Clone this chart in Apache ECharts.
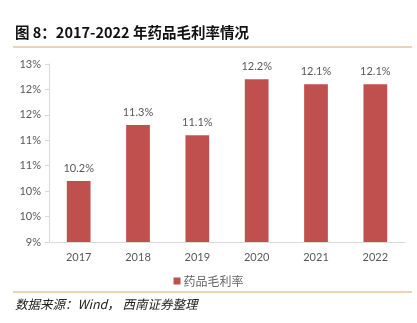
<!DOCTYPE html>
<html><head><meta charset="utf-8">
<script src="https://cdn.jsdelivr.net/npm/echarts@6/dist/echarts.min.js"></script>
<style>html,body{margin:0;padding:0;background:#fff}#c{width:417px;height:323px}</style>
</head><body><div id="c"></div>
<script>
const categories = ['2017','2018','2019','2020','2021','2022'];
const barValues = [10.2, 11.3, 11.1, 12.2, 12.1, 12.1];
const barLabels = ['10.2%','11.3%','11.1%','12.2%','12.1%','12.1%'];
const yTicks = [9, 9.5, 10, 10.5, 11, 11.5, 12, 12.5];
const yTickLabels = ['9%','10%','10%','11%','11%','12%','12%','13%'];
const seriesName = '药品毛利率';

const chart = echarts.init(document.getElementById('c'), null, {renderer:'canvas'});
const axisFont = 'Lato, "Noto Sans CJK SC", sans-serif';
chart.setOption({
  animation:false,
  backgroundColor:'#fff',
  grid:{left:49, right:12, top:64, bottom:81, containLabel:false},
  graphic:[
    {type:'text', left:15, top:25, style:{text:'图 8：2017-2022 年药品毛利率情况', font:'bold 14.5px "Noto Sans CJK SC", sans-serif', fill:'#111'}},
    {type:'line', shape:{x1:13,y1:47,x2:412,y2:47}, style:{stroke:'#d9a96a', lineWidth:1.2}},
    {type:'line', shape:{x1:13,y1:292,x2:412,y2:292}, style:{stroke:'#d9a96a', lineWidth:1.2}},
    {type:'text', left:15, top:298, style:{text:'数据来源：Wind， 西南证券整理', font:'italic 12.5px "Noto Sans CJK SC", sans-serif', fill:'#222'}}
  ],
  legend:{data:[seriesName], left:'center', top:270, icon:'rect', itemWidth:7, itemHeight:7, itemGap:4,
    textStyle:{color:'#666', fontSize:12, fontFamily:'"Noto Sans CJK SC", sans-serif', padding:[0,0,0,-2]}},
  xAxis:{type:'category', data:categories,
    axisLine:{lineStyle:{color:'#d9d9d9'}}, axisTick:{show:false},
    axisLabel:{color:'#595959', fontSize:11, fontFamily:axisFont, margin:10}},
  yAxis:{type:'value', min:yTicks[0], max:yTicks[yTicks.length-1], interval:0.5,
    axisLine:{show:true, lineStyle:{color:'#d9d9d9'}},
    axisTick:{show:true, length:4, lineStyle:{color:'#d9d9d9'}},
    splitLine:{show:false},
    axisLabel:{color:'#595959', fontSize:11, fontFamily:axisFont, margin:8,
      formatter:(v)=>{const i=yTicks.findIndex(t=>Math.abs(t-v)<1e-6); return i>=0?yTickLabels[i]:'';}}},
  series:[{name:seriesName, type:'bar', data:barValues, barWidth:'40%',
    itemStyle:{color:'#c0504d'},
    label:{show:true, position:'top', distance:7, color:'#595959', fontSize:11, fontFamily:axisFont,
      formatter:(p)=>barLabels[p.dataIndex]}}]
});
</script></body></html>
